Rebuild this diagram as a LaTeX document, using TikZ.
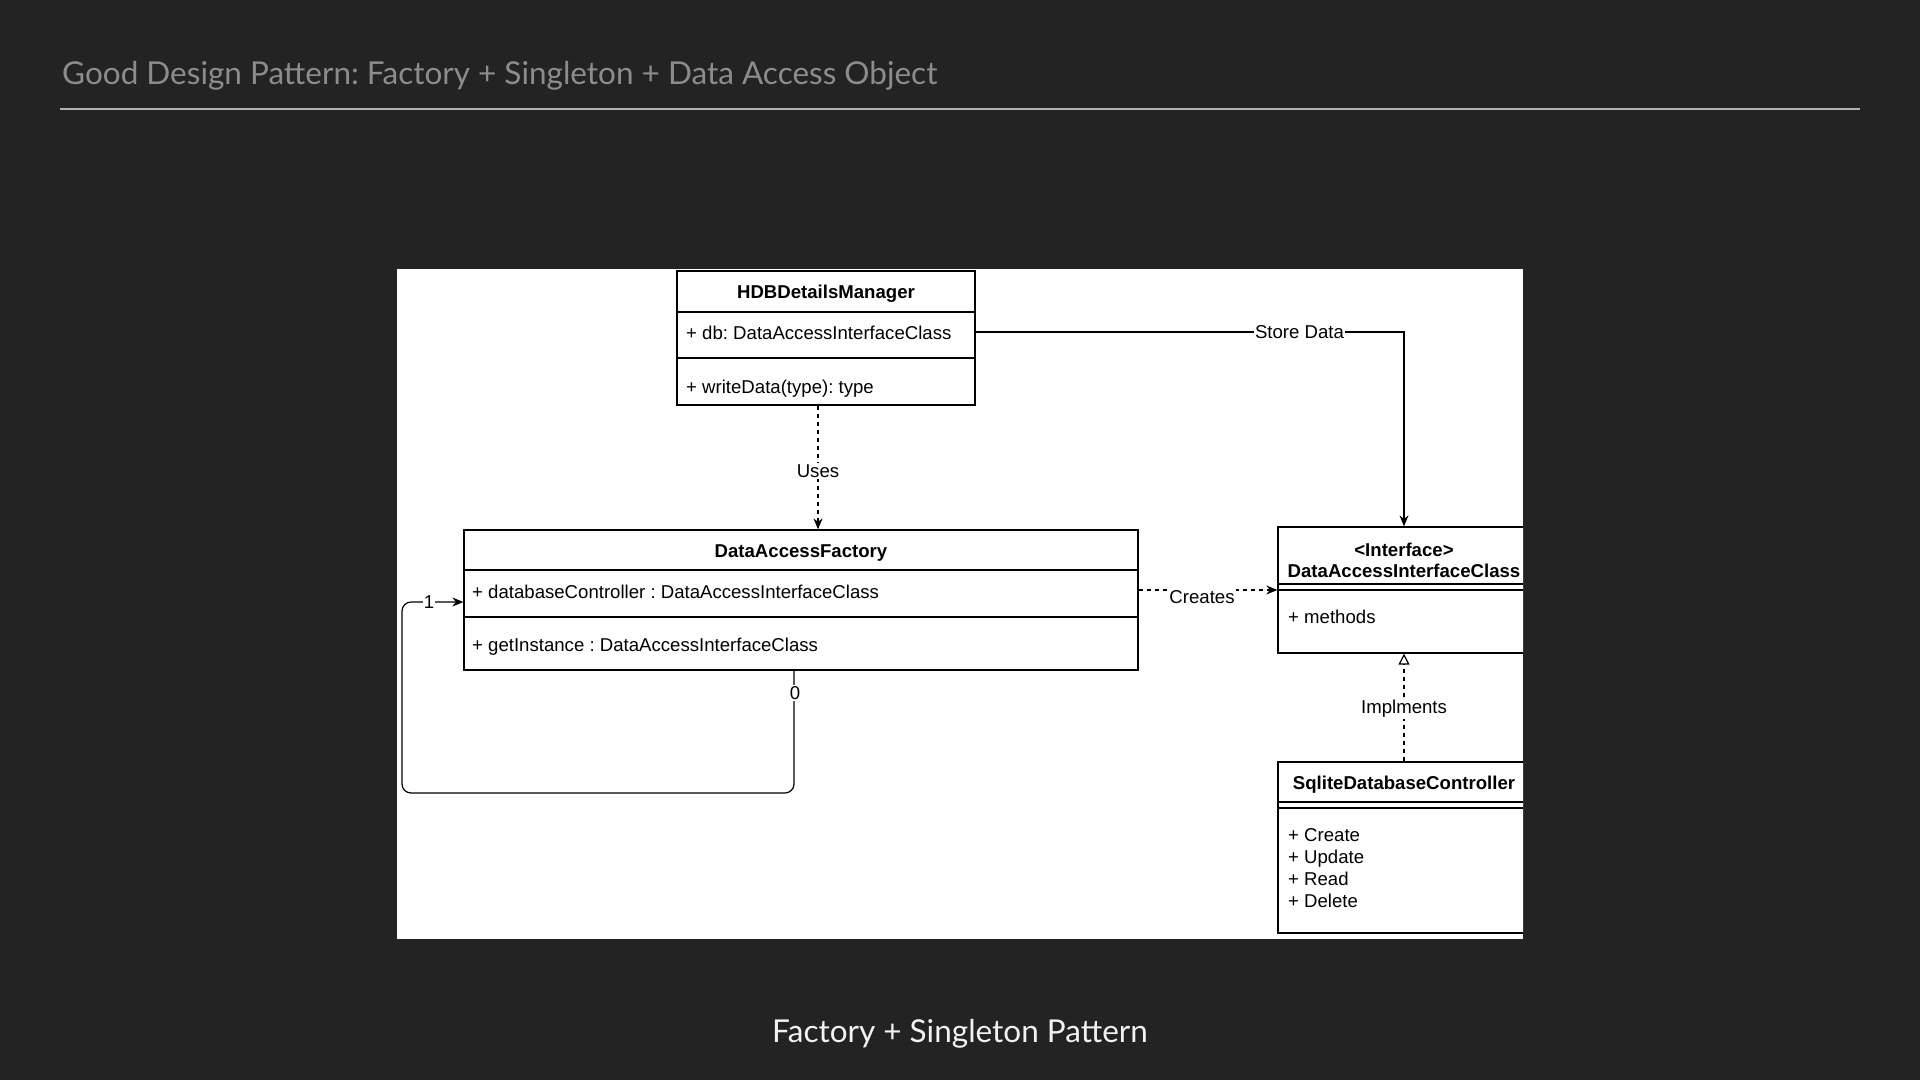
\documentclass[tikz,border=0pt]{standalone}
\usepackage{fontspec}
\setmainfont{Liberation Sans}
\newfontfamily\avfont{Lato}
\usetikzlibrary{arrows.meta}
\frenchspacing
\definecolor{bgdark}{HTML}{232323}
\definecolor{titlegray}{HTML}{8C8C8C}
\definecolor{rulegray}{HTML}{B0B0B0}
\definecolor{capwhite}{HTML}{F2F2F2}
\tikzset{
  umlbox/.style={draw=black, line width=1.3pt, fill=white, inner sep=0pt},
  umlline/.style={draw=black, line width=1.2pt},
  dsh/.style={dash pattern=on 4pt off 4pt},
  tip/.style={-{Stealth[length=11pt,width=9pt]}},
  txt/.style={font=\fontsize{18.6}{22}\selectfont, inner sep=0pt, anchor=base west},
  btxt/.style={font=\bfseries\fontsize{18.6}{22}\selectfont, inner sep=0pt, anchor=base},
  lbl/.style={fill=white, inner sep=1.5pt, font=\fontsize{18.6}{22}\selectfont},
}
\begin{document}
\frenchspacing
\begin{tikzpicture}[x=1pt,y=-1pt]
\useasboundingbox (0,0) rectangle (1920,1080);
\fill[bgdark] (0,0) rectangle (1920,1080);
% header
\node[anchor=base west, inner sep=0pt, text=titlegray, font=\avfont\fontsize{31.5}{38}\selectfont] (title) at (62,84) {Good Design Pattern: Factory + Singleton + Data Access Object};
\coordinate (ruleL) at (60,109);
\coordinate (ruleR) at (1860,109);
\draw[rulegray, line width=1.8pt] (ruleL) -- (ruleR);
% caption
\node[anchor=base, inner sep=0pt, text=capwhite, font=\avfont\fontsize{31.5}{38}\selectfont] (caption) at (960,1042) {Factory + Singleton Pattern};
% panel
\fill[white] (397,269) rectangle (1523,939);
\begin{scope}
\clip (397,269) rectangle (1523,939);
% HDBDetailsManager
\node[umlbox, minimum width=298pt, minimum height=134pt] (hdb) at (826,338) {};
\draw[umlline] (677,312) -- (975,312);
\draw[umlline] (677,358) -- (975,358);
\node[btxt] (hdbt) at (826,298) {HDBDetailsManager};
\node[txt] (hdbdb) at (686,339) {+ db: DataAccessInterfaceClass};
\node[txt] (hdbw) at (686,393) {+ writeData(type): type};
% DataAccessFactory
\node[umlbox, minimum width=674pt, minimum height=140pt] (fac) at (801,600) {};
\draw[umlline] (464,570) -- (1138,570);
\draw[umlline] (464,617) -- (1138,617);
\node[btxt] (fact) at (801,557) {DataAccessFactory};
\node[txt] (faca) at (472,598) {+ databaseController : DataAccessInterfaceClass};
\node[txt] (facm) at (472,651) {+ getInstance : DataAccessInterfaceClass};
% Interface
\node[umlbox, minimum width=252pt, minimum height=126pt] (iface) at (1404,590) {};
\draw[umlline] (1278,584) -- (1530,584);
\draw[umlline] (1278,590) -- (1530,590);
\node[btxt] (ifst) at (1404,556) {<Interface>};
\node[btxt] (ifnm) at (1404,577) {DataAccessInterfaceClass};
\node[txt] (ifm) at (1288,623) {+ methods};
% Sqlite
\node[umlbox, minimum width=252pt, minimum height=171pt] (sql) at (1404,847.5) {};
\draw[umlline] (1278,802) -- (1530,802);
\draw[umlline] (1278,808) -- (1530,808);
\node[btxt] (sqlt) at (1404,789) {SqliteDatabaseController};
\node[txt] (sq1) at (1288,841) {+ Create};
\node[txt] (sq2) at (1288,863) {+ Update};
\node[txt] (sq3) at (1288,885) {+ Read};
\node[txt] (sq4) at (1288,907) {+ Delete};
% connectors
\coordinate (storeY) at (0,332);
\draw[umlline, tip] (hdb.east |- storeY) -| (iface.north)
  node[lbl, pos=0.378] (storelbl) {Store Data};
\coordinate (usesX) at (818,0);
\draw[umlline, dsh, tip] (hdb.south -| usesX) -- (fac.north -| usesX);
\node[lbl] (useslbl) at (818,471) {Uses};
\coordinate (crY) at (0,590);
\draw[umlline, dsh, tip] (fac.east |- crY) -- (iface.west |- crY);
\node[lbl] (crlbl) at (1202,597) {Creates};
\draw[umlline, dsh, -{Triangle[open,length=11pt,width=11pt]}] (sql.north) -- (iface.south);
\node[lbl] (impllbl) at (1404,709) {Implments};
\coordinate (loopX) at (794,0);
\coordinate (loopB) at (0,793);
\coordinate (loopL) at (402,0);
\coordinate (loopY) at (0,602);
\draw[umlline, tip, rounded corners=9pt] (fac.south -| loopX) -- (loopX |- loopB) -- (loopL |- loopB) -- (loopL |- loopY) -- (fac.west |- loopY);
\node[lbl] (zerolbl) at (795,693) {0};
\node[lbl, inner sep=1pt] (onelbl) at (429,602) {1};
\end{scope}
\end{tikzpicture}
\end{document}
